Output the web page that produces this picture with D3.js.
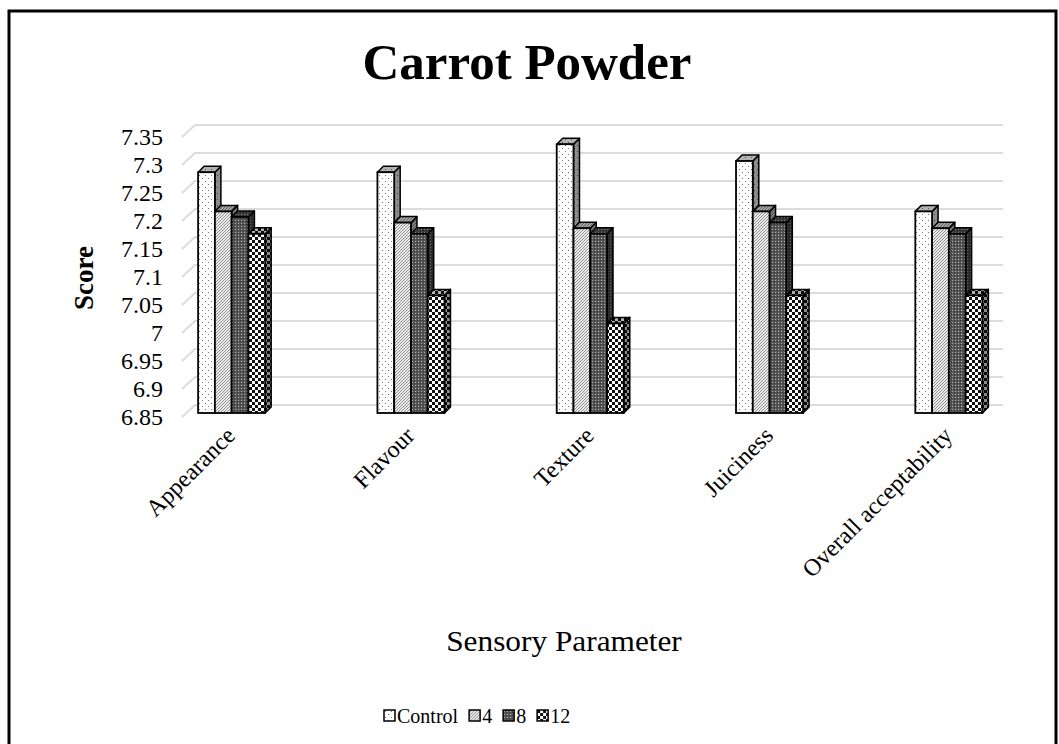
<!DOCTYPE html>
<html>
<head>
<meta charset="utf-8">
<script src="https://cdn.jsdelivr.net/npm/d3@7/dist/d3.min.js"></script>
<style>
  html, body { margin: 0; padding: 0; background: #fff; }
  svg { display: block; font-family: "Liberation Serif", "Times New Roman", serif; }
</style>
</head>
<body>
<svg id="chart" width="1059" height="744"></svg>
<script>
// Sensory scores of carrot powder treatments
const categories = ["Appearance", "Flavour", "Texture", "Juiciness", "Overall acceptability"];
const seriesNames = ["Control", "4", "8", "12"];
const control = [7.28, 7.28, 7.33, 7.30, 7.21];
const level4  = [7.21, 7.19, 7.18, 7.21, 7.18];
const level8  = [7.20, 7.17, 7.17, 7.19, 7.17];
const level12 = [7.17, 7.06, 7.01, 7.06, 7.06];
const yTicks = [6.85, 6.9, 6.95, 7, 7.05, 7.1, 7.15, 7.2, 7.25, 7.3, 7.35];

const seriesValues = [control, level4, level8, level12];

const svg = d3.select("#chart");
const defs = svg.append("defs");

// Fill patterns for each series
function pattern(id, w, h, bg, draw) {
  const p = defs.append("pattern").attr("id", id)
    .attr("patternUnits", "userSpaceOnUse").attr("width", w).attr("height", h);
  p.append("rect").attr("width", w).attr("height", h).attr("fill", bg);
  draw(p);
}
pattern("p0", 6, 6, "#ffffff", p => {
  p.append("rect").attr("x", 1).attr("y", 1).attr("width", 1).attr("height", 1).attr("fill", "#777");
  p.append("rect").attr("x", 4).attr("y", 4).attr("width", 1).attr("height", 1).attr("fill", "#777");
});
pattern("p1", 3, 3, "#ececec", p => {
  p.append("path").attr("d", "M0,3 L3,0 M-1,1 L1,-1 M2,4 L4,2").attr("stroke", "#8f8f8f").attr("stroke-width", 1);
});
pattern("p2", 3, 3, "#555555", p => {
  p.append("rect").attr("x", 1).attr("y", 1).attr("width", 1).attr("height", 1).attr("fill", "#b0b0b0");
  p.append("rect").attr("x", 0).attr("y", 2).attr("width", 1).attr("height", 1).attr("fill", "#333");
});
pattern("p3", 6, 6, "#ffffff", p => {
  p.append("rect").attr("x", 0).attr("y", 0).attr("width", 3).attr("height", 3).attr("fill", "#111");
  p.append("rect").attr("x", 3).attr("y", 3).attr("width", 3).attr("height", 3).attr("fill", "#111");
});

// Outer frame
svg.append("rect").attr("x", 9).attr("y", 11).attr("width", 1047).attr("height", 760)
  .attr("fill", "none").attr("stroke", "#000").attr("stroke-width", 3);

// Title
svg.append("text").attr("x", 527).attr("y", 79).attr("text-anchor", "middle")
  .attr("font-size", 51).attr("font-weight", "bold").text("Carrot Powder");

// Scales
const y = d3.scaleLinear().domain([6.85, 7.35]).range([413, 133]);
const x = d3.scaleBand().domain(categories).range([142, 1038.5])
  .paddingInner(0.626).paddingOuter(0.313);
const xs = d3.scaleBand().domain(seriesNames).range([0, x.bandwidth()]);

const depth = { dx: 6, dy: -6 };   // bar depth
const wall = { x0: 182, x1: 195, xEnd: 1003, front: 4, back: -8 };

// Gridlines on side wall and back wall
const grid = svg.append("g");
yTicks.forEach(t => {
  grid.append("path")
    .attr("d", `M${wall.x0},${y(t) + wall.front} L${wall.x1},${y(t) + wall.back} H${wall.xEnd}`)
    .attr("fill", "none").attr("stroke", "#dcdcdc").attr("stroke-width", 2);
});

// Y axis tick labels
svg.append("g").selectAll("text").data(yTicks).join("text")
  .attr("x", 163).attr("y", d => y(d) + 4).attr("dy", "0.35em")
  .attr("text-anchor", "end").attr("font-size", 24)
  .text(d => d3.format("")(+d.toFixed(2)));

// 3D bars
const bars = svg.append("g");
categories.forEach((cat, ci) => {
  seriesNames.forEach((s, si) => {
    const v = seriesValues[si][ci];
    const x0 = x(cat) + xs(s), w = xs.bandwidth();
    const yt = y(v), yb = y(6.85);
    const g = bars.append("g");
    const side = `M${x0 + w},${yt} L${x0 + w + depth.dx},${yt + depth.dy} L${x0 + w + depth.dx},${yb + depth.dy} L${x0 + w},${yb} Z`;
    const top = `M${x0},${yt} L${x0 + depth.dx},${yt + depth.dy} L${x0 + w + depth.dx},${yt + depth.dy} L${x0 + w},${yt} Z`;
    g.append("path").attr("d", side).attr("fill", `url(#p${si})`);
    g.append("path").attr("d", side).attr("fill", "rgba(0,0,0,0.45)").attr("stroke", "#000").attr("stroke-width", 1.5).attr("stroke-linejoin", "round");
    g.append("path").attr("d", top).attr("fill", `url(#p${si})`);
    g.append("path").attr("d", top).attr("fill", "rgba(0,0,0,0.3)").attr("stroke", "#000").attr("stroke-width", 1.5).attr("stroke-linejoin", "round");
    g.append("rect").attr("x", x0).attr("y", yt).attr("width", w).attr("height", yb - yt)
      .attr("fill", `url(#p${si})`).attr("stroke", "#000").attr("stroke-width", 1.8);
  });
});

// Category labels
svg.append("g").selectAll("text").data(categories).join("text")
  .attr("transform", d => `translate(${x(d) + x.bandwidth() / 2 + 5},${437}) rotate(-45)`)
  .attr("text-anchor", "end").attr("font-size", 24)
  .text(d => d);

// Axis titles
svg.append("text").attr("transform", "translate(84,278) rotate(-90)")
  .attr("text-anchor", "middle").attr("dy", "0.35em")
  .attr("font-size", 27).attr("font-weight", "bold").text("Score");
svg.append("text").attr("x", 564).attr("y", 651).attr("text-anchor", "middle")
  .attr("font-size", 29).attr("transform", "translate(564,0) scale(1.08,1) translate(-564,0)")
  .text("Sensory Parameter");

// Legend
const legend = svg.append("g").attr("transform", "translate(384,716)");
let lx = 0;
seriesNames.forEach((s, si) => {
  const item = legend.append("g").attr("transform", `translate(${lx},0)`);
  item.append("rect").attr("x", 0).attr("y", -6).attr("width", 11).attr("height", 11)
    .attr("fill", `url(#p${si})`).attr("stroke", "#000").attr("stroke-width", 1.5);
  const t = item.append("text").attr("x", 13).attr("y", 0).attr("dy", "0.35em")
    .attr("font-size", 20).text(s);
  lx += 13 + t.node().getComputedTextLength() + 11;
});
</script>
</body>
</html>
